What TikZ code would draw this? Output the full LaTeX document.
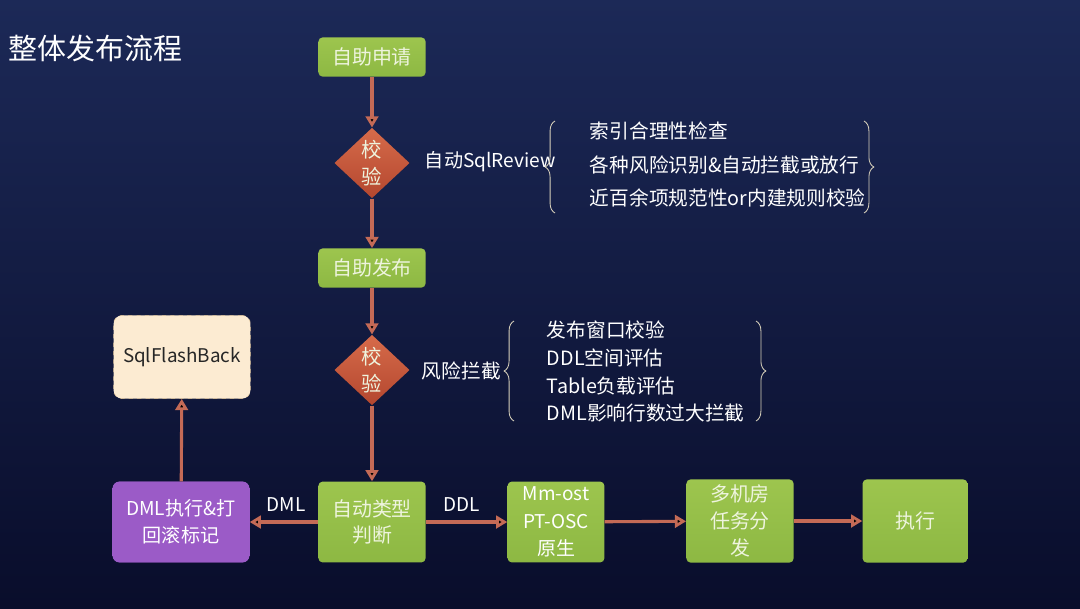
\documentclass[tikz,border=0pt]{standalone}
\usepackage{fontspec}
\setmainfont{Noto Sans CJK SC}
\usetikzlibrary{shapes.geometric,arrows.meta,decorations.pathreplacing}

\definecolor{bgtop}{HTML}{1C2957}
\definecolor{bgbot}{HTML}{090D2B}
\definecolor{leaf}{HTML}{9DC54E}
\definecolor{leafdark}{HTML}{8DB843}
\definecolor{brick}{HTML}{D66B4A}
\definecolor{brickdark}{HTML}{B4472F}
\definecolor{plum}{HTML}{9B5BC7}
\definecolor{cream}{HTML}{FCEBD2}
\definecolor{creamline}{HTML}{E2C69C}
\definecolor{flowred}{HTML}{C46A56}
\definecolor{boxtext}{HTML}{EEF4DE}
\definecolor{bracegray}{HTML}{D9D2BC}

\begin{document}
\begin{tikzpicture}[x=0.025cm,y=-0.025cm,
    greenbox/.style={draw=none,top color=leaf,bottom color=leafdark,rounded corners=3pt,
        minimum width=2.68cm,minimum height=0.98cm,text=boxtext,align=center,
        font=\fontsize{14.2}{19}\selectfont},
    checkbox/.style={diamond,draw=none,top color=brick,bottom color=brickdark,
        minimum width=1.88cm,minimum height=1.76cm,inner sep=0pt,text=boxtext,align=center,
        font=\fontsize{14.5}{19}\selectfont},
    flow/.style={draw=flowred,line width=2.2pt,-{Triangle[length=8pt,width=9pt]}},
    note/.style={text=white,anchor=west,font=\fontsize{14}{18}\selectfont},
    curly/.style={draw=bracegray,line width=0.6pt,decorate,decoration={brace,amplitude=7pt}}]

\fill[top color=bgtop,bottom color=bgbot] (0,0) rectangle (1080,608);

\node[text=white,anchor=west,font=\fontsize{20.6}{24}\selectfont] (title) at (4,48) {整体发布流程};

% main column
\node[greenbox] (req) at (372,57) {自助申请};
\node[checkbox] (chk1) at (372,163) {校\\验};
\node[greenbox] (pub) at (372,268) {自助发布};
\node[checkbox] (chk2) at (372,370) {校\\验};
\node[greenbox,minimum height=2.02cm] (judge) at (372,522) {自动类型\\判断};

% bottom row
\node[greenbox,fill=plum,top color=plum,bottom color=plum,minimum width=3.42cm,minimum height=2.02cm,rounded corners=5pt,text=white,font=\fontsize{13.6}{19}\selectfont] (dml) at (181,522) {DML执行\&打\\回滚标记};
\node[draw=creamline,dashed,fill=cream,rounded corners=6pt,minimum width=3.42cm,minimum height=2.08cm,
    font=\fontsize{13.4}{18}\selectfont,text=black!85] (flash) at (182,357) {SqlFlashBack};
\node[greenbox,minimum width=2.42cm,minimum height=2.02cm,text=white,font=\fontsize{13.5}{19.5}\selectfont] (osc) at (556,522) {Mm-ost\\PT-OSC\\原生};
\node[greenbox,minimum width=2.68cm,minimum height=2.08cm] (dispatch) at (740,521) {多机房\\任务分\\发};
\node[greenbox,minimum width=2.62cm,minimum height=2.08cm] (run) at (915,521) {执行};

\path[flow]
    (req) edge (chk1)
    (chk1) edge (pub)
    (pub) edge (chk2)
    (chk2) edge (judge)
    (judge) edge (dml)
    (dml) edge (flash)
    (judge) edge (osc)
    (osc) edge (dispatch)
    (dispatch) edge (run);

\node[note,anchor=center,font=\fontsize{13.5}{18}\selectfont] (dmllab) at (286,505) {DML};
\node[note,anchor=center,font=\fontsize{13.5}{18}\selectfont] (ddllab) at (462,505) {DDL};

% first check notes
\node[note,font=\fontsize{13.6}{18}\selectfont] (rev) at (420,162) {自动SqlReview};
\draw[curly] (555,213) -- (555,121);
\draw[curly] (864,121) -- (864,213);
\node[note] (r1) at (585,131) {索引合理性检查};
\node[note] (r2) at (585,165) {各种风险识别\&自动拦截或放行};
\node[note] (r3) at (585,198) {近百余项规范性or内建规则校验};

% second check notes
\node[note] (risk) at (417,371) {风险拦截};
\draw[curly] (514,421) -- (514,321);
\draw[curly] (756,321) -- (756,421);
\node[note] (s1) at (542,330) {发布窗口校验};
\node[note] (s2) at (542,358) {DDL空间评估};
\node[note] (s3) at (542,386) {Table负载评估};
\node[note] (s4) at (542,413) {DML影响行数过大拦截};
\end{tikzpicture}
\end{document}
